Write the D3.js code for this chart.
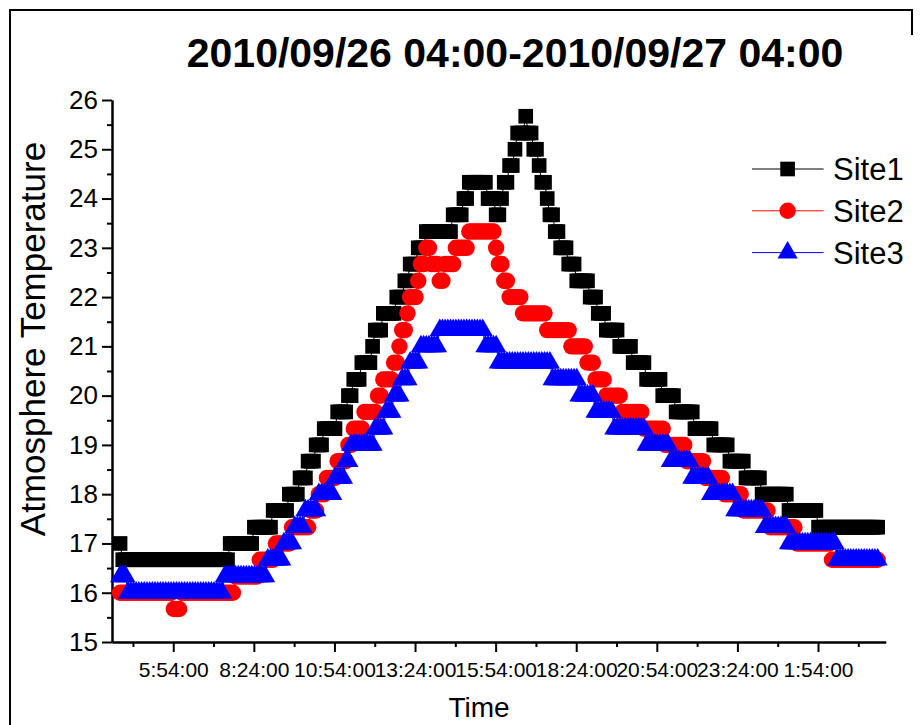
<!DOCTYPE html>
<html>
<head>
<meta charset="utf-8">
<script src="https://cdn.jsdelivr.net/npm/d3@7"></script>
<style>
  body { margin: 0; background: #fff; }
  text { font-family: "Liberation Sans", Arial, sans-serif; fill: #000; }
</style>
</head>
<body>
<svg id="chart" width="924" height="725"></svg>
<script>
// one reading every 5 minutes, first one at 04:15 (minutes after midnight of 2010/09/26)
var sampleStart = 255, sampleStep = 5;

var seriesNames = ["Site1", "Site2", "Site3"];
var seriesColors = ["#000000", "#ff0000", "#0000ff"];

var site1 = [
  17,
  16.67, 16.67, 16.67, 16.67, 16.67, 16.67, 16.67, 16.67, 16.67, 16.67,
  16.67, 16.67, 16.67, 16.67, 16.67, 16.67, 16.67, 16.67, 16.67, 16.67,
  16.67, 16.67, 16.67, 16.67, 16.67, 16.67, 16.67, 16.67, 16.67, 16.67,
  16.67, 16.67, 16.67, 16.67, 16.67, 16.67, 16.67, 16.67, 16.67, 16.67,
  17, 17, 17, 17, 17, 17, 17, 17, 17,
  17.33, 17.33, 17.33, 17.33, 17.33, 17.33, 17.33,
  17.67, 17.67, 17.67, 17.67, 17.67, 17.67,
  18, 18, 18, 18,
  18.33, 18.33, 18.33,
  18.67, 18.67, 18.67,
  19, 19, 19,
  19.33, 19.33, 19.33, 19.33, 19.33,
  19.67, 19.67, 19.67, 19.67,
  20, 20,
  20.33, 20.33, 20.33,
  20.67, 20.67, 20.67, 20.67,
  21,
  21.33, 21.33, 21.33,
  21.67, 21.67, 21.67, 21.67, 21.67,
  22, 22, 22,
  22.33, 22.33,
  22.67, 22.67, 22.67,
  23, 23, 23,
  23.33, 23.33, 23.33, 23.33, 23.33, 23.33, 23.33, 23.33, 23.33, 23.33,
  23.67, 23.67, 23.67, 23.67,
  24, 24,
  24.33, 24.33, 24.33, 24.33, 24.33, 24.33, 24.33,
  24, 24, 24,
  23.67, 23.67,
  24,
  24.33, 24.33,
  24.67, 24.67,
  25,
  25.33, 25.33, 25.33,
  25.67,
  25.33, 25.33,
  25, 25,
  24.67,
  24.33, 24.33,
  24,
  23.67, 23.67,
  23.33, 23.33,
  23, 23, 23,
  22.67, 22.67, 22.67,
  22.33, 22.33, 22.33, 22.33, 22.33,
  22, 22, 22,
  21.67, 21.67, 21.67,
  21.33, 21.33, 21.33, 21.33, 21.33,
  21, 21, 21, 21, 21,
  20.67, 20.67, 20.67, 20.67, 20.67,
  20.33, 20.33, 20.33, 20.33, 20.33, 20.33,
  20, 20, 20, 20, 20,
  19.67, 19.67, 19.67, 19.67, 19.67, 19.67, 19.67,
  19.33, 19.33, 19.33, 19.33, 19.33, 19.33, 19.33,
  19, 19, 19, 19, 19, 19,
  18.67, 18.67, 18.67, 18.67, 18.67, 18.67,
  18.33, 18.33, 18.33, 18.33, 18.33, 18.33,
  18, 18, 18, 18, 18, 18, 18, 18, 18, 18,
  17.67, 17.67, 17.67, 17.67, 17.67, 17.67, 17.67, 17.67, 17.67, 17.67, 17.67,
  17.33, 17.33, 17.33, 17.33, 17.33, 17.33, 17.33, 17.33, 17.33, 17.33,
  17.33, 17.33, 17.33, 17.33, 17.33, 17.33, 17.33, 17.33, 17.33, 17.33,
  17.33, 17.33, 17.33
];

var site2 = [
  16, 16, 16, 16, 16, 16, 16, 16, 16, 16,
  16, 16, 16, 16, 16, 16, 16, 16, 16, 16,
  15.67, 15.67, 15.67,
  16, 16, 16, 16, 16, 16, 16, 16, 16, 16,
  16, 16, 16, 16, 16, 16, 16, 16, 16, 16,
  16.33, 16.33, 16.33, 16.33, 16.33, 16.33, 16.33, 16.33, 16.33,
  16.67, 16.67, 16.67, 16.67, 16.67, 16.67,
  17, 17, 17, 17, 17, 17,
  17.33, 17.33, 17.33, 17.33, 17.33, 17.33, 17.33,
  17.67, 17.67, 17.67,
  18, 18, 18,
  18.33, 18.33, 18.33, 18.33,
  18.67, 18.67, 18.67, 18.67,
  19, 19,
  19.33, 19.33, 19.33, 19.33,
  19.67, 19.67, 19.67, 19.67, 19.67,
  20, 20,
  20.33, 20.33, 20.33, 20.33,
  20.67, 20.67,
  21,
  21.33, 21.33,
  21.67,
  22, 22, 22,
  22.33,
  22.67, 22.67,
  23, 23,
  22.67, 22.67, 22.67,
  22.33, 22.33,
  22.67, 22.67, 22.67, 22.67,
  23, 23, 23, 23, 23,
  23.33, 23.33, 23.33, 23.33, 23.33, 23.33, 23.33, 23.33, 23.33, 23.33,
  23,
  22.67, 22.67,
  22.33, 22.33,
  22, 22, 22, 22, 22,
  21.67, 21.67, 21.67, 21.67, 21.67, 21.67, 21.67, 21.67, 21.67,
  21.33, 21.33, 21.33, 21.33, 21.33, 21.33, 21.33, 21.33, 21.33,
  21, 21, 21, 21, 21, 21,
  20.67, 20.67, 20.67,
  20.33, 20.33, 20.33, 20.33,
  20, 20, 20, 20, 20, 20,
  19.67, 19.67, 19.67, 19.67, 19.67, 19.67, 19.67, 19.67,
  19.33, 19.33, 19.33, 19.33, 19.33, 19.33, 19.33, 19.33,
  19, 19, 19, 19, 19, 19, 19, 19,
  18.67, 18.67, 18.67, 18.67, 18.67, 18.67, 18.67,
  18.33, 18.33, 18.33, 18.33, 18.33, 18.33, 18.33,
  18, 18, 18, 18, 18, 18, 18,
  17.67, 17.67, 17.67, 17.67, 17.67, 17.67, 17.67, 17.67, 17.67, 17.67,
  17.33, 17.33, 17.33, 17.33, 17.33, 17.33, 17.33, 17.33, 17.33, 17.33,
  17, 17, 17, 17, 17, 17, 17, 17, 17, 17, 17, 17, 17,
  16.67, 16.67, 16.67, 16.67, 16.67, 16.67, 16.67, 16.67, 16.67,
  16.67, 16.67, 16.67, 16.67, 16.67, 16.67, 16.67, 16.67, 16.67
];

var site3 = [
  16.33, 16.33, 16.33,
  16, 16, 16, 16, 16, 16, 16, 16, 16, 16, 16, 16,
  16, 16, 16, 16, 16, 16, 16, 16, 16, 16, 16, 16,
  16, 16, 16, 16, 16, 16, 16, 16, 16, 16, 16, 16,
  16.33, 16.33, 16.33, 16.33, 16.33, 16.33, 16.33, 16.33,
  16.33, 16.33, 16.33, 16.33, 16.33, 16.33, 16.33, 16.33,
  16.67, 16.67, 16.67, 16.67, 16.67, 16.67,
  17, 17, 17, 17,
  17.33, 17.33, 17.33, 17.33,
  17.67, 17.67, 17.67, 17.67, 17.67,
  18, 18, 18, 18, 18, 18,
  18.33, 18.33, 18.33, 18.33,
  18.67, 18.67,
  19, 19, 19, 19, 19, 19, 19, 19, 19,
  19.33, 19.33, 19.33, 19.33,
  19.67, 19.67, 19.67,
  20, 20, 20,
  20.33, 20.33, 20.33,
  20.67, 20.67, 20.67, 20.67,
  21, 21, 21, 21, 21, 21, 21,
  21.33, 21.33, 21.33, 21.33, 21.33, 21.33, 21.33, 21.33, 21.33,
  21.33, 21.33, 21.33, 21.33, 21.33, 21.33, 21.33, 21.33,
  21, 21, 21, 21, 21,
  20.67, 20.67, 20.67, 20.67, 20.67, 20.67, 20.67, 20.67, 20.67, 20.67,
  20.67, 20.67, 20.67, 20.67, 20.67, 20.67, 20.67, 20.67, 20.67, 20.67,
  20.33, 20.33, 20.33, 20.33, 20.33, 20.33, 20.33, 20.33, 20.33, 20.33,
  20, 20, 20, 20, 20, 20,
  19.67, 19.67, 19.67, 19.67, 19.67, 19.67, 19.67,
  19.33, 19.33, 19.33, 19.33, 19.33, 19.33, 19.33, 19.33, 19.33, 19.33, 19.33, 19.33,
  19, 19, 19, 19, 19, 19, 19, 19, 19,
  18.67, 18.67, 18.67, 18.67, 18.67, 18.67, 18.67, 18.67,
  18.33, 18.33, 18.33, 18.33, 18.33, 18.33, 18.33,
  18, 18, 18, 18, 18, 18, 18, 18, 18,
  17.67, 17.67, 17.67, 17.67, 17.67, 17.67, 17.67, 17.67, 17.67, 17.67, 17.67,
  17.33, 17.33, 17.33, 17.33, 17.33, 17.33, 17.33, 17.33, 17.33,
  17, 17, 17, 17, 17, 17, 17, 17, 17,
  17, 17, 17, 17, 17, 17, 17, 17, 17,
  16.67, 16.67, 16.67, 16.67, 16.67, 16.67, 16.67, 16.67,
  16.67, 16.67, 16.67, 16.67, 16.67, 16.67, 16.67, 16.67
];

// x axis ticks (minutes after midnight of 09/26) and their labels
var tickMinutes = [354, 504, 654, 804, 954, 1104, 1254, 1404, 1554];
var tickLabels = ["5:54:00", "8:24:00", "10:54:00", "13:24:00", "15:54:00",
                  "18:24:00", "20:54:00", "23:24:00", "1:54:00"];
var minorMinutes = [279, 429, 579, 729, 879, 1029, 1179, 1329, 1479, 1629];
var yTicks = [15, 16, 17, 18, 19, 20, 21, 22, 23, 24, 25, 26];
var yMinor = [15.5, 16.5, 17.5, 18.5, 19.5, 20.5, 21.5, 22.5, 23.5, 24.5, 25.5];

var allSeries = [site1, site2, site3];
var symbols = [d3.symbolSquare, d3.symbolCircle, d3.symbolTriangle];
var symbolSizes = [215, 212, 175];

// Canvas dimensions
var margin = {top: 100, left: 112},
    width = 773.7,
    height = 542;

var svg = d3.select("#chart");

// outer frame: left and top edges, short drop at the top right corner
svg.append("path")
    .attr("d", "M10,725V10H912V35")
    .attr("fill", "none")
    .attr("stroke", "#000")
    .attr("stroke-width", 2);

var chart = svg.append("g")
    .attr("transform", "translate(" + margin.left + "," + margin.top + ")");

var x = d3.scaleLinear().domain([240, 1680]).range([0, width]);
var y = d3.scaleLinear().domain([15, 26]).range([height, 0]);

// axes
chart.append("g")
    .attr("class", "axis")
    .call(d3.axisLeft(y).tickValues(yMinor).tickSize(5).tickSizeOuter(0).tickFormat(""));

chart.append("g")
    .attr("class", "axis ylab")
    .call(d3.axisLeft(y).tickValues(yTicks).tickSize(10).tickSizeOuter(0).tickPadding(4));

chart.append("g")
    .attr("class", "axis")
    .attr("transform", "translate(0," + height + ")")
    .call(d3.axisBottom(x).tickValues(minorMinutes).tickSize(5).tickSizeOuter(0).tickFormat(""));

chart.append("g")
    .attr("class", "axis xlab")
    .attr("transform", "translate(0," + height + ")")
    .call(d3.axisBottom(x).tickValues(tickMinutes).tickSize(10).tickSizeOuter(0).tickPadding(10)
      .tickFormat(function(d, i) { return tickLabels[i]; }));

chart.selectAll(".axis path, .axis line")
    .attr("stroke", "#000")
    .attr("stroke-width", 2);
chart.selectAll(".ylab text").style("font-size", "26px").attr("font-family", null);
chart.selectAll(".xlab text").style("font-size", "21px").attr("font-family", null);

// series: thin line then markers
allSeries.forEach(function(values, s) {
  var pts = values.map(function(v, i) { return {t: sampleStart + i * sampleStep, v: v}; });

  chart.append("path")
      .datum(pts)
      .attr("fill", "none")
      .attr("stroke", seriesColors[s])
      .attr("stroke-width", 1)
      .attr("d", d3.line().x(function(d) { return x(d.t); }).y(function(d) { return y(d.v); }));

  chart.selectAll(".mark" + s)
      .data(pts)
    .enter().append("path")
      .attr("class", "mark" + s)
      .attr("fill", seriesColors[s])
      .attr("transform", function(d) { return "translate(" + x(d.t) + "," + y(d.v) + ")"; })
      .attr("d", d3.symbol().type(symbols[s]).size(symbolSizes[s]));
});

// title and axis titles
svg.append("text")
    .attr("x", 515).attr("y", 67)
    .attr("text-anchor", "middle")
    .style("font-size", "41px")
    .style("font-weight", "bold")
    .text("2010/09/26 04:00-2010/09/27 04:00");

svg.append("text")
    .attr("transform", "translate(45,339) rotate(-90)")
    .attr("text-anchor", "middle")
    .style("font-size", "35px")
    .text("Atmosphere Temperature");

svg.append("text")
    .attr("x", 479).attr("y", 717)
    .attr("text-anchor", "middle")
    .style("font-size", "28px")
    .text("Time");

// legend
var legend = svg.append("g").attr("transform", "translate(752,169)");
seriesNames.forEach(function(name, s) {
  var g = legend.append("g").attr("transform", "translate(0," + (s * 41.8) + ")");
  g.append("line")
      .attr("x1", 0).attr("x2", 71.6)
      .attr("stroke", seriesColors[s])
      .attr("stroke-width", 1);
  g.append("path")
      .attr("transform", "translate(35.6,0)")
      .attr("fill", seriesColors[s])
      .attr("d", d3.symbol().type(symbols[s]).size(symbolSizes[s]));
  g.append("text")
      .attr("x", 81).attr("y", 11)
      .style("font-size", "31px")
      .text(name);
});
</script>
</body>
</html>
